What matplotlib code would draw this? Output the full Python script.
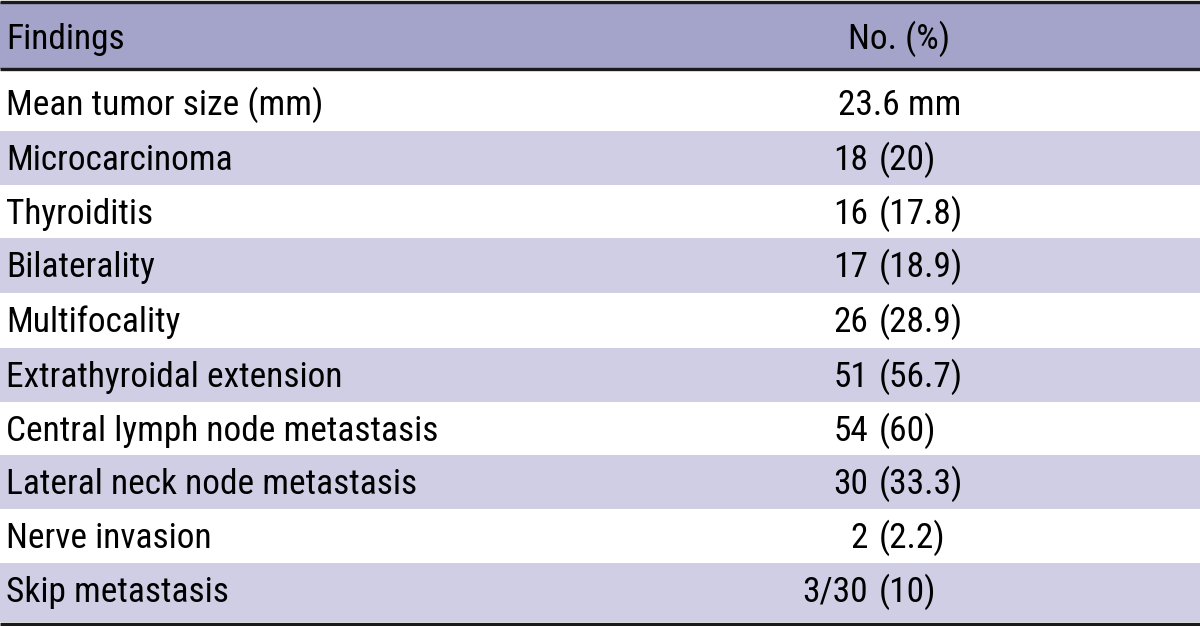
import matplotlib
matplotlib.use('Agg')
from matplotlib import pyplot as plt
from matplotlib import font_manager as fm
from matplotlib.patches import Rectangle

# pick a condensed grotesque close to Helvetica Condensed
installed = set(f.name for f in fm.fontManager.ttflist)
for cand in ['Nimbus Sans Narrow', 'Liberation Sans Narrow', 'Roboto Condensed',
             'Archivo Narrow', 'Asap Condensed', 'Barlow Semi Condensed']:
    if cand in installed:
        break
else:
    cand = 'DejaVu Sans'
plt.rcParams['font.family'] = [cand, 'DejaVu Sans']

header = ['Findings', 'No. (%)']
findings = ['Mean tumor size (mm)', 'Microcarcinoma', 'Thyroiditis', 'Bilaterality',
            'Multifocality', 'Extrathyroidal extension', 'Central lymph node metastasis',
            'Lateral neck node metastasis', 'Nerve invasion', 'Skip metastasis']
counts = ['23.6 mm', '18', '16', '17', '26', '51', '54', '30', '2', '3/30']
percents = ['', '(20)', '(17.8)', '(18.9)', '(28.9)', '(56.7)', '(60)', '(33.3)', '(2.2)', '(10)']

W, H = 1200, 626
head_col = '#a4a3c9'
band_col = '#d0cee4'
fs = 25.5

fig = plt.figure(figsize=(W/100, H/100), dpi=100)
ax = fig.add_axes([0, 0, 1, 1])
ax.set_xlim(0, W)
ax.set_ylim(H, 0)
ax.axis('off')

# header band
ax.add_patch(Rectangle((0, 2), W, 67, color=head_col, lw=0))
ax.text(6, 49, header[0], fontsize=fs, va='baseline', ha='left')
ax.text(899, 49, header[1], fontsize=fs, va='baseline', ha='center')

row_top = [70, 131, 185, 238, 293, 348, 402, 455, 509, 563, 622]
for i, name in enumerate(findings):
    y0, y1 = row_top[i], row_top[i+1]
    if i % 2 == 1:
        ax.add_patch(Rectangle((0, y0), W, y1-y0, color=band_col, lw=0))
    yb = y0 + 39 if i else 115
    ax.text(6, yb, name, fontsize=fs, va='baseline', ha='left')
    if percents[i]:
        ax.text(868, yb, counts[i], fontsize=fs, va='baseline', ha='right')
        ax.text(879, yb, percents[i], fontsize=fs, va='baseline', ha='left')
    else:
        ax.text(900, yb, counts[i], fontsize=fs, va='baseline', ha='center')

for y in [1.5, 69, 623.5]:
    ax.plot([0, W], [y, y], color='#1a1a1a', lw=2.4, solid_capstyle='butt')

fig.savefig('out.png', dpi=100)
